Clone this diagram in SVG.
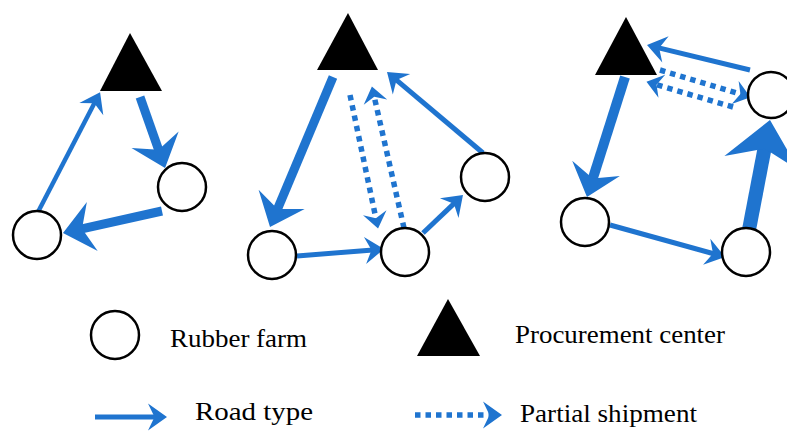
<svg xmlns="http://www.w3.org/2000/svg" width="787" height="431" viewBox="0 0 787 431">
<style>
.farm{fill:#fff;stroke:#000;stroke-width:2.5}
.pc{fill:#000}
.road{fill:none;stroke:#1f74cf;stroke-linecap:butt}
.part{fill:none;stroke:#1f74cf;stroke-width:5.5;stroke-dasharray:5.5 5}
.lbl{font-family:"Liberation Serif","Times New Roman",serif;font-size:26px;fill:#000}
</style>
<defs>
<marker id="aS" markerUnits="userSpaceOnUse" orient="auto" refX="8" refY="0" markerWidth="20" markerHeight="30" overflow="visible"><path d="M19,0 L0,-13.5 L6.5,0 L0,13.5 Z" fill="#1f74cf"/></marker>
<marker id="aD" markerUnits="userSpaceOnUse" orient="auto" refX="6.5" refY="0" markerWidth="20" markerHeight="30" overflow="visible"><path d="M16,0 L0,-12 L5.5,0 L0,12 Z" fill="#1f74cf"/></marker>
<marker id="aM" markerUnits="userSpaceOnUse" orient="auto" refX="13" refY="0" markerWidth="30" markerHeight="50" overflow="visible"><path d="M30,0 L0,-25 L10.5,0 L0,25 Z" fill="#1f74cf"/></marker>
<marker id="aL" markerUnits="userSpaceOnUse" orient="auto" refX="19" refY="0" markerWidth="45" markerHeight="80" overflow="visible"><path d="M44,0 L0,-38 L15,0 L0,38 Z" fill="#1f74cf"/></marker>
</defs>
<g id="connectors">
<!-- diagram 1 -->
<line class="road" x1="38" y1="212" x2="95" y2="102" stroke-width="4.5" marker-end="url(#aS)"/>
<line class="road" x1="140" y1="97" x2="159.4" y2="152" stroke-width="9" marker-end="url(#aM)"/>
<line class="road" x1="162" y1="211" x2="79.6" y2="229.3" stroke-width="9" marker-end="url(#aM)"/>
<!-- diagram 2 -->
<line class="road" x1="333" y1="77" x2="276.6" y2="211.3" stroke-width="9" marker-end="url(#aM)"/>
<line class="road" x1="297" y1="256" x2="373" y2="249.9" stroke-width="5" marker-end="url(#aS)"/>
<line class="road" x1="423" y1="233" x2="455" y2="202.6" stroke-width="5" marker-end="url(#aS)"/>
<line class="road" x1="483" y1="153" x2="395.4" y2="79.1" stroke-width="5" marker-end="url(#aS)"/>
<line class="part" x1="350" y1="95" x2="376.1" y2="219.2" marker-end="url(#aD)"/>
<line class="part" x1="404" y1="228" x2="374" y2="95.8" marker-end="url(#aD)"/>
<!-- diagram 3 -->
<line class="road" x1="750" y1="70" x2="657.7" y2="47.6" stroke-width="5" marker-end="url(#aS)"/>
<line class="part" x1="660" y1="70" x2="741.4" y2="94.4" marker-end="url(#aD)"/>
<line class="part" x1="733" y1="107" x2="655.6" y2="84.5" marker-end="url(#aD)"/>
<line class="road" x1="625" y1="77" x2="592.1" y2="180.8" stroke-width="10" marker-end="url(#aM)"/>
<line class="road" x1="610" y1="225" x2="714.4" y2="254" stroke-width="5" marker-end="url(#aS)"/>
<line class="road" x1="748" y1="235" x2="765.3" y2="144.6" stroke-width="14" marker-end="url(#aL)"/>
</g>
<g id="d1-center"><polygon class="pc" points="130,33 100,91 162,91"/></g>
<g id="d1-farm-a"><circle class="farm" cx="182" cy="187" r="24"/></g>
<g id="d1-farm-b"><circle class="farm" cx="37" cy="235" r="24"/></g>
<g id="d2-center"><polygon class="pc" points="348,13 317,70 378,70"/></g>
<g id="d2-farm-a"><circle class="farm" cx="272" cy="255" r="24"/></g>
<g id="d2-farm-b"><circle class="farm" cx="405" cy="252" r="24"/></g>
<g id="d2-farm-c"><circle class="farm" cx="485" cy="177" r="24"/></g>
<g id="d3-center"><polygon class="pc" points="626,17 595,75 657,75"/></g>
<g id="d3-farm-a"><circle class="farm" cx="771" cy="95" r="23"/></g>
<g id="d3-farm-b"><circle class="farm" cx="585" cy="222" r="24"/></g>
<g id="d3-farm-c"><circle class="farm" cx="746" cy="252" r="24"/></g>
<g id="legend">
<circle class="farm" cx="115" cy="335" r="24"/>
<text class="lbl" x="170" y="347" textLength="137" lengthAdjust="spacingAndGlyphs">Rubber farm</text>
<polygon class="pc" points="448,299 417,356 480,356"/>
<text class="lbl" x="515" y="343" textLength="210" lengthAdjust="spacingAndGlyphs">Procurement center</text>
<line class="road" x1="95" y1="417" x2="156" y2="417" stroke-width="5" marker-end="url(#aS)"/>
<text class="lbl" x="195" y="420" textLength="118" lengthAdjust="spacingAndGlyphs">Road type</text>
<line class="part" x1="415" y1="415" x2="491" y2="415" marker-end="url(#aS)"/>
<text class="lbl" x="520" y="422" textLength="177" lengthAdjust="spacingAndGlyphs">Partial shipment</text>
</g>
</svg>
